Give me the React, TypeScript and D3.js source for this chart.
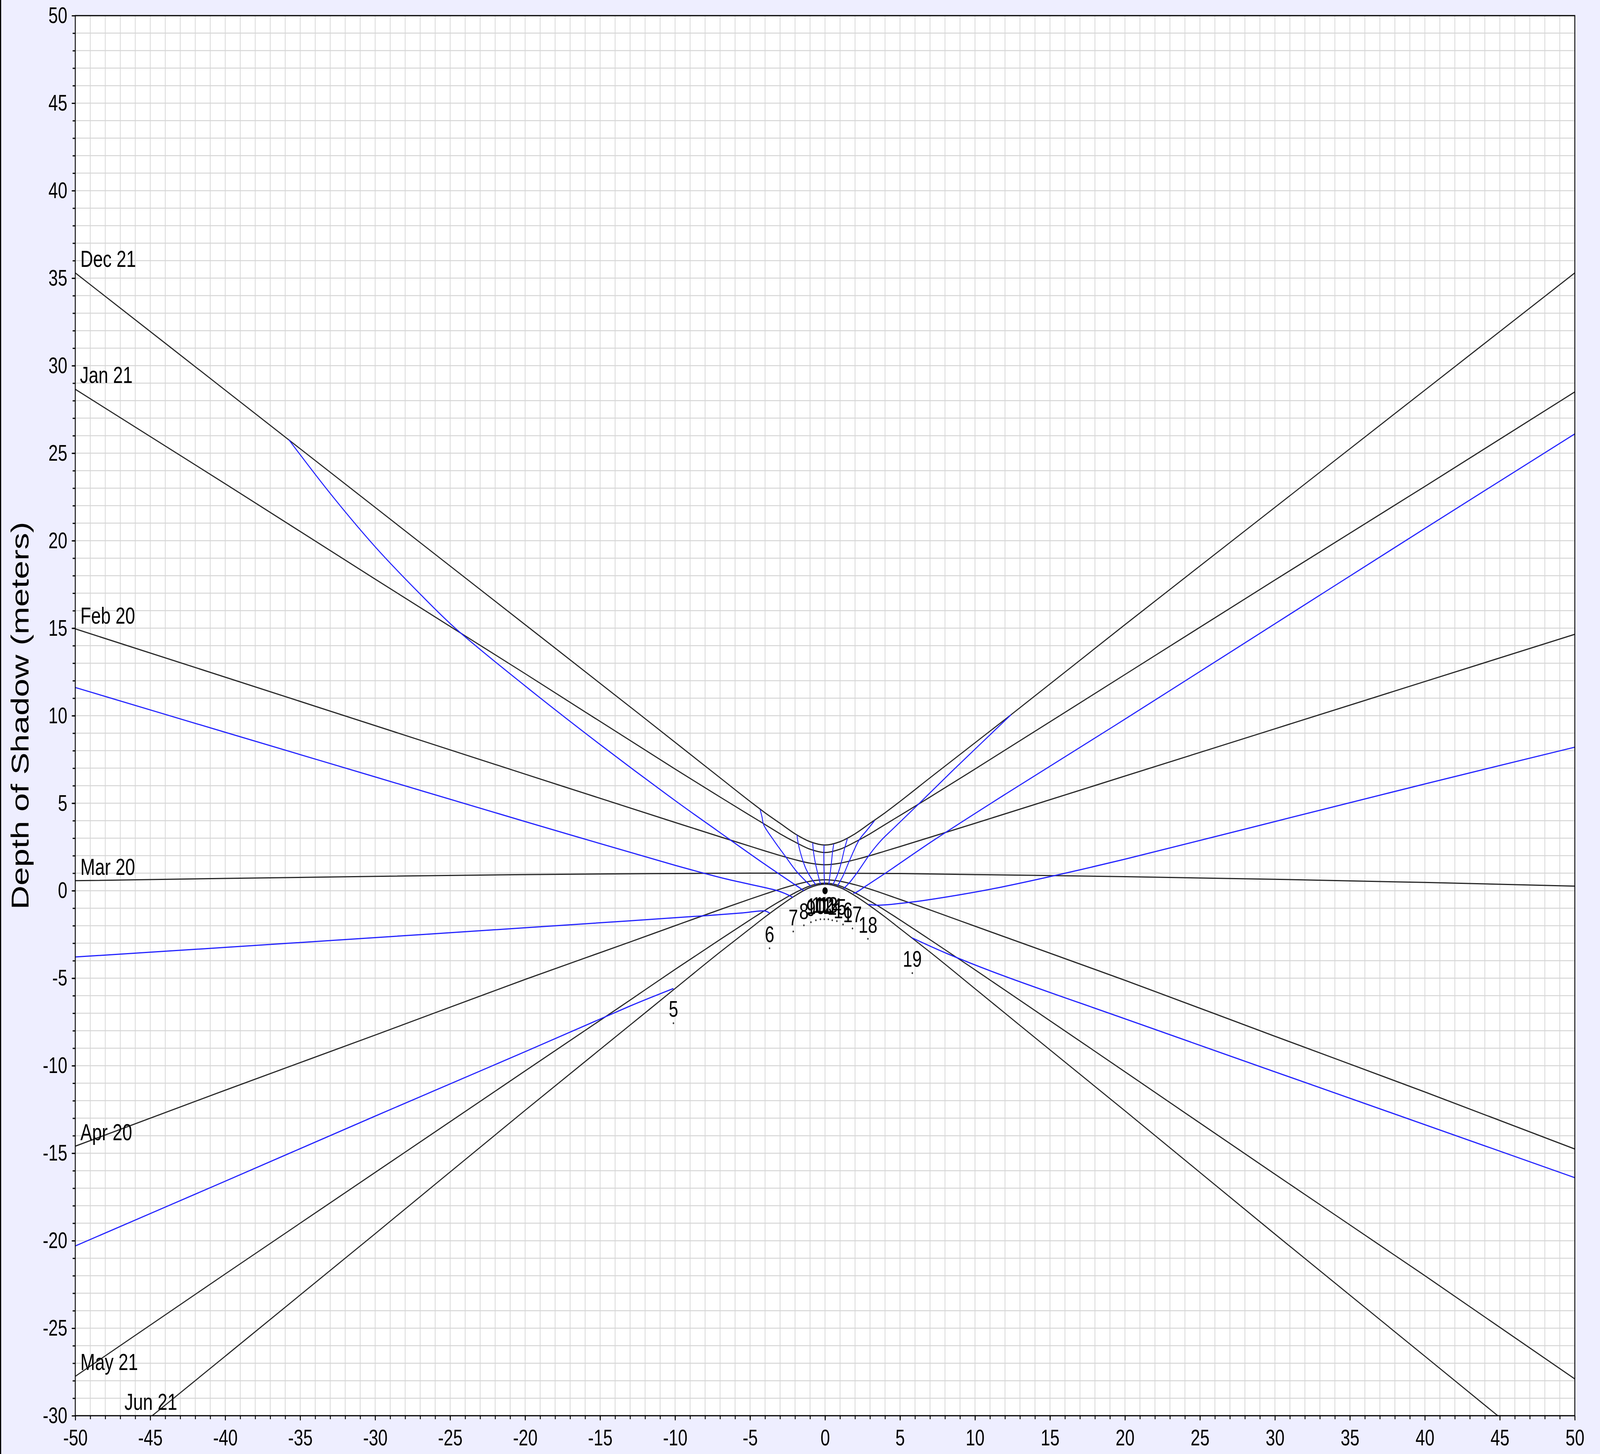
import React, { useEffect, useRef } from 'react';
import * as d3 from 'd3';

const WIDTH = 5463;
const HEIGHT = 3721;
const margin = { top: 40, right: 86, bottom: 98, left: 257 };

const xTickValues = [-50, -45, -40, -35, -30, -25, -20, -15, -10, -5, 0, 5, 10, 15, 20, 25, 30, 35, 40, 45, 50];
const yTickValues = [-30, -25, -20, -15, -10, -5, 0, 5, 10, 15, 20, 25, 30, 35, 40, 45, 50];

type Pt = [number, number];

// date curves (black)
const dec21: Pt[] = [[-50, 35.3], [-40, 28.6], [-30, 21.9], [-20, 15.2], [-12.4, 10.1], [-7, 6.45], [-5, 5.1], [-4, 4.45], [-3, 3.85], [-2, 3.25], [-1, 2.8], [0, 2.61], [1, 2.8], [2, 3.25], [3, 3.85], [4, 4.45], [5, 5.1], [7, 6.45], [12.4, 10.05], [20, 15.2], [30, 21.9], [40, 28.6], [50, 35.3]];
const jan21: Pt[] = [[-50, 28.65], [-40, 23.25], [-30, 17.8], [-20, 12.4], [-10, 6.95], [-7, 5.35], [-5, 4.3], [-4, 3.78], [-3, 3.25], [-2, 2.78], [-1, 2.37], [0, 2.18], [1, 2.37], [2, 2.78], [3, 3.25], [4, 3.78], [5, 4.3], [7, 5.35], [10, 6.95], [20, 12.35], [30, 17.75], [40, 23.1], [50, 28.5]];
const feb20: Pt[] = [[-50, 14.96], [-40, 12.2], [-30, 9.43], [-20, 6.66], [-10, 3.9], [-7, 3.08], [-5, 2.54], [-4, 2.27], [-3, 2.01], [-2, 1.77], [-1, 1.57], [0, 1.48], [1, 1.57], [2, 1.77], [3, 2.0], [4, 2.26], [5, 2.52], [7, 3.05], [10, 3.85], [20, 6.55], [30, 9.25], [40, 11.95], [50, 14.65]];
const mar20: Pt[] = [[-50, 0.57], [-40, 0.7], [-30, 0.82], [-20, 0.92], [-10, 0.98], [-5, 1.0], [0, 1.0], [5, 0.98], [10, 0.92], [20, 0.8], [30, 0.65], [40, 0.47], [50, 0.26]];
const apr20: Pt[] = [[-50, -14.6], [-40, -11.4], [-30, -8.25], [-20, -5.07], [-13, -2.93], [-10, -2.0], [-7, -1.08], [-5, -0.48], [-4, -0.19], [-3, 0.09], [-2, 0.34], [-1, 0.54], [0, 0.62], [1, 0.54], [2, 0.34], [3, 0.09], [4, -0.2], [5, -0.5], [7, -1.1], [10, -2.03], [20, -5.12], [30, -8.32], [40, -11.5], [50, -14.76]];
const may21: Pt[] = [[-50, -27.75], [-40, -21.9], [-30, -16.1], [-20, -10.3], [-13, -6.25], [-10, -4.5], [-7, -2.79], [-5, -1.67], [-4, -1.12], [-3, -0.6], [-2, -0.12], [-1, 0.27], [0, 0.43], [1, 0.27], [2, -0.12], [3, -0.6], [4, -1.12], [5, -1.67], [7, -2.8], [10, -4.52], [20, -10.35], [30, -16.2], [40, -22.0], [50, -27.9]];
const jun21: Pt[] = [[-44.87, -30], [-40, -26.6], [-30, -19.6], [-20, -12.55], [-13, -7.68], [-10, -5.59], [-7, -3.51], [-5, -2.17], [-4, -1.5], [-3, -0.87], [-2, -0.29], [-1, 0.18], [0, 0.37], [1, 0.18], [2, -0.29], [3, -0.87], [4, -1.5], [5, -2.17], [7, -3.51], [10, -5.6], [13, -7.7], [20, -12.58], [30, -19.62], [40, -26.6], [44.86, -30]];

const dateCurves = [dec21, jan21, feb20, mar20, apr20, may21, jun21];
const dateNames = ['Dec 21', 'Jan 21', 'Feb 20', 'Mar 20', 'Apr 20', 'May 21', 'Jun 21'];
const dateLabelPos: Pt[] = [[-49.66, 35.64], [-49.69, 29.01], [-49.66, 15.25], [-49.66, 0.9], [-49.66, -14.27], [-49.66, -27.38], [-46.72, -29.67]];

// hour lines (blue)
const hour5: Pt[] = [[-50, -20.3], [-40, -16.6], [-30, -12.88], [-20, -9.2], [-13.03, -6.6], [-10.11, -5.59]];
const hour6: Pt[] = [[-50, -3.79], [-40, -3.24], [-30, -2.68], [-20, -2.12], [-13, -1.72], [-8, -1.43], [-5.5, -1.27], [-4.02, -1.16], [-3.7, -1.28]];
const hour7: Pt[] = [[-50, 11.61], [-40, 9.05], [-30, 6.5], [-20, 3.95], [-10, 1.45], [-6.55, 0.66], [-3.3, 0.03], [-2.7, -0.15], [-2.15, -0.38]];
const hour8: Pt[] = [[-35.76, 25.77], [-33, 22.7], [-30, 19.65], [-27, 16.95], [-24.6, 14.95], [-20, 11.7], [-15, 8.35], [-10, 5.15], [-7.17, 3.42], [-4, 1.5], [-1.41, 0.0]];
const hour9: Pt[] = [[-4.33, 4.64], [-4.2, 4.2], [-4.1, 3.78], [-3.43, 2.89], [-2.68, 2.0], [-1.9, 1.1], [-0.93, 0.25]];
const hour10: Pt[] = [[-1.87, 3.19], [-1.82, 2.85], [-1.65, 2.2], [-1.3, 1.3], [-0.95, 0.75], [-0.61, 0.33]];
const hour11: Pt[] = [[-0.82, 2.73], [-0.78, 2.3], [-0.65, 1.6], [-0.48, 0.95], [-0.3, 0.36]];
const hour12: Pt[] = [[-0.07, 2.61], [-0.08, 2.0], [-0.07, 1.2], [-0.04, 0.36]];
const hour13: Pt[] = [[0.58, 2.67], [0.5, 2.2], [0.4, 1.4], [0.25, 0.36]];
const hour14: Pt[] = [[1.49, 2.97], [1.3, 2.4], [1.05, 1.5], [0.8, 0.85], [0.53, 0.35]];
const hour15: Pt[] = [[3.3, 4.0], [2.79, 3.45], [2.27, 2.89], [1.62, 1.7], [1.2, 0.85], [0.82, 0.26]];
const hour16: Pt[] = [[12.4, 10.05], [8.5, 6.85], [6, 4.75], [4.55, 3.55], [3.76, 2.89], [3, 2.1], [2.2, 1.1], [1.62, 0.45], [1.23, 0.11]];
const hour17: Pt[] = [[50, 26.1], [40, 20.7], [30, 15.25], [20, 9.8], [12, 5.5], [7.26, 2.89], [4.08, 1.03], [2.79, 0.3], [2.07, -0.1], [1.88, -0.15]];
const hour18: Pt[] = [[50, 8.2], [40, 6.1], [30, 3.95], [20, 1.8], [15.77, 0.95], [11.73, 0.2], [8.1, -0.36], [5.51, -0.68], [3.57, -0.83], [2.89, -0.79]];
const hour19: Pt[] = [[50, -16.4], [40, -13.37], [30, -10.35], [20, -7.32], [11.73, -4.81], [8.1, -3.58], [5.79, -2.69]];

const hourLines = [hour5, hour6, hour7, hour8, hour9, hour10, hour11, hour12, hour13, hour14, hour15, hour16, hour17, hour18, hour19];
const hourNames = ['5', '6', '7', '8', '9', '10', '11', '12', '13', '14', '15', '16', '17', '18', '19'];
const hourLabelPos: Pt[] = [[-10.11, -7.57], [-3.7, -3.29], [-2.12, -2.33], [-1.41, -1.98], [-0.94, -1.8], [-0.61, -1.69], [-0.31, -1.63], [-0.05, -1.63], [0.22, -1.63], [0.48, -1.69], [0.79, -1.74], [1.2, -1.93], [1.83, -2.16], [2.86, -2.75], [5.82, -4.71]];

const gnomon: Pt = [0, 0];

const FONT = "'Liberation Sans', Arial, Helvetica, sans-serif";

export default function App() {
  const svgRef = useRef<SVGSVGElement>(null);

  useEffect(() => {
    if (!svgRef.current) return;
    const svg = d3.select(svgRef.current);
    svg.selectAll('*').remove();

    const x = d3.scaleLinear().domain([-50, 50]).range([margin.left, WIDTH - margin.right]);
    const y = d3.scaleLinear().domain([-30, 50]).range([HEIGHT - margin.bottom, margin.top]);

    svg.append('rect').attr('width', WIDTH).attr('height', HEIGHT).attr('fill', '#eeeeff');
    svg.append('rect').attr('x', 0).attr('y', 0).attr('width', 4).attr('height', HEIGHT).attr('fill', '#000');

    svg.append('rect')
      .attr('x', x(-50)).attr('y', y(50))
      .attr('width', x(50) - x(-50)).attr('height', y(-30) - y(50))
      .attr('fill', '#fff');

    svg.append('defs').append('clipPath').attr('id', 'plot-clip')
      .append('rect')
      .attr('x', x(-50)).attr('y', y(50))
      .attr('width', x(50) - x(-50)).attr('height', y(-30) - y(50));

    // grid, one line per unit
    const grid = svg.append('g').attr('stroke', '#d6d6d6').attr('stroke-width', 2.5);
    grid.selectAll('.gx').data(x.ticks(100)).enter().append('line')
      .attr('x1', d => x(d)).attr('x2', d => x(d))
      .attr('y1', y(50)).attr('y2', y(-30));
    grid.selectAll('.gy').data(y.ticks(80)).enter().append('line')
      .attr('y1', d => y(d)).attr('y2', d => y(d))
      .attr('x1', x(-50)).attr('x2', x(50));

    // axes: minor ticks then labelled major ticks
    const label = (d: d3.NumberValue) => String(d);
    const minorX = svg.append('g').attr('transform', `translate(0,${y(-30)})`)
      .call(d3.axisBottom(x).tickValues(x.ticks(100)).tickSize(9).tickFormat(() => ''));
    const majorX = svg.append('g').attr('transform', `translate(0,${y(-30)})`)
      .call(d3.axisBottom(x).tickValues(xTickValues).tickSize(12).tickPadding(23).tickFormat(label));
    const minorY = svg.append('g').attr('transform', `translate(${x(-50)},0)`)
      .call(d3.axisLeft(y).tickValues(y.ticks(80)).tickSize(9).tickFormat(() => ''));
    const majorY = svg.append('g').attr('transform', `translate(${x(-50)},0)`)
      .call(d3.axisLeft(y).tickValues(yTickValues).tickSize(12).tickPadding(15).tickFormat(label));

    [minorX, majorX, minorY, majorY].forEach(g => {
      g.select('.domain').remove();
      g.selectAll('line').attr('stroke', '#000').attr('stroke-width', 3);
      g.selectAll('text')
        .attr('fill', '#000')
        .style('font-family', FONT)
        .style('font-size', '58px');
    });

    svg.append('text')
      .attr('transform', `translate(97,${(y(50) + y(-30)) / 2}) rotate(-90)`)
      .attr('text-anchor', 'middle')
      .style('font-family', FONT)
      .style('font-size', '85px')
      .attr('fill', '#000')
      .text('Depth of Shadow (meters)');

    const plot = svg.append('g').attr('clip-path', 'url(#plot-clip)');

    const dateLine = d3.line<Pt>()
      .x(d => x(d[0]))
      .y(d => y(d[1]))
      .curve(d3.curveMonotoneX);

    const hourLine = d3.line<Pt>()
      .x(d => x(d[0]))
      .y(d => y(d[1]))
      .curve(d3.curveCatmullRom.alpha(0.5));

    plot.selectAll('.date-line')
      .data(dateCurves)
      .enter()
      .append('path')
      .attr('class', 'date-line')
      .attr('d', d => dateLine(d))
      .attr('fill', 'none')
      .attr('stroke', '#262626')
      .attr('stroke-width', 3);

    plot.selectAll('.hour-line')
      .data(hourLines)
      .enter()
      .append('path')
      .attr('class', 'hour-line')
      .attr('d', d => hourLine(d))
      .attr('fill', 'none')
      .attr('stroke', '#2222ff')
      .attr('stroke-width', 3);

    plot.append('circle')
      .attr('cx', x(gnomon[0])).attr('cy', y(gnomon[1])).attr('r', 9)
      .attr('fill', '#000');

    // date labels
    plot.selectAll('.date-label')
      .data(dateNames)
      .enter()
      .append('text')
      .attr('class', 'date-label')
      .attr('x', (_, i) => x(dateLabelPos[i][0]))
      .attr('y', (_, i) => y(dateLabelPos[i][1]))
      .style('font-family', FONT)
      .style('font-size', '60px')
      .attr('fill', '#000')
      .text(d => d);

    // hour labels with small marker dots
    plot.selectAll('.hour-dot')
      .data(hourLabelPos)
      .enter()
      .append('circle')
      .attr('class', 'hour-dot')
      .attr('cx', d => x(d[0]))
      .attr('cy', d => y(d[1]))
      .attr('r', 2.5)
      .attr('fill', '#333');

    plot.selectAll('.hour-label')
      .data(hourNames)
      .enter()
      .append('text')
      .attr('class', 'hour-label')
      .attr('x', (_, i) => x(hourLabelPos[i][0]))
      .attr('y', (_, i) => y(hourLabelPos[i][1]) - 16)
      .attr('text-anchor', 'middle')
      .style('font-family', FONT)
      .style('font-size', '58px')
      .attr('fill', '#000')
      .text(d => d);

    // frame
    svg.append('rect')
      .attr('x', x(-50)).attr('y', y(50))
      .attr('width', x(50) - x(-50)).attr('height', y(-30) - y(50))
      .attr('fill', 'none')
      .attr('stroke', '#000')
      .attr('stroke-width', 3);
  }, []);

  return (
    <svg
      ref={svgRef}
      viewBox={`0 0 ${WIDTH} ${HEIGHT}`}
      preserveAspectRatio="none"
      style={{ position: 'fixed', left: 0, top: 0, width: '100vw', height: '100vh', display: 'block' }}
    />
  );
}
